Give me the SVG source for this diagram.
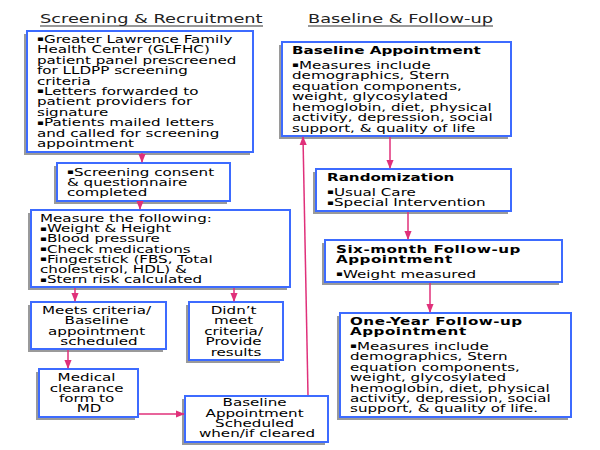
<svg xmlns="http://www.w3.org/2000/svg" width="600" height="450" viewBox="0 0 600 450">
<defs>
<marker id="ah" viewBox="0 0 10 10" refX="9" refY="5" markerWidth="6" markerHeight="6" orient="auto">
<path d="M0,1 L10,5 L0,9 Z" fill="#E0307A"/>
</marker>
<style>
.sh{fill:#9a9a9a}
.bx{fill:#fff;stroke:#3D6BFF;stroke-width:2}
.t{font-family:"DejaVu Sans",Verdana,sans-serif;font-size:10.3px;fill:#000}
.b{font-weight:bold}
.w{letter-spacing:0.35px}
.bl{font-size:7px;baseline-shift:2px}
.c{text-anchor:middle}
.h{font-family:"DejaVu Sans",Verdana,sans-serif;font-size:12.5px;fill:#222}
.ul{stroke:#333;stroke-width:1.2}
.cn{stroke:#E0307A;stroke-width:1.5;fill:none;marker-end:url(#ah)}
</style>
</defs>
<rect width="600" height="450" fill="#fff"/>

<g id="headers">
<text class="h" transform="translate(40,0) scale(1.42,1)" x="0" y="23.5">Screening &amp; Recruitment</text>
<line class="ul" x1="40" y1="26" x2="263" y2="26"/>
<text class="h" transform="translate(308,0) scale(1.42,1)" x="0" y="23.5">Baseline &amp; Follow-up</text>
<line class="ul" x1="308" y1="26" x2="493" y2="26"/>
</g>

<g id="n-prescreen">
<rect class="sh" x="24" y="34" width="226" height="121"/>
<rect class="bx" x="27" y="31" width="226" height="121"/>
<text class="t" transform="translate(37,0) scale(1.47,1)">
<tspan x="0" y="43"><tspan class="bl">▪</tspan>Greater Lawrence Family</tspan>
<tspan x="0" dy="10.4">Health Center (GLFHC)</tspan>
<tspan x="0" dy="10.4">patient panel prescreened</tspan>
<tspan x="0" dy="10.4">for LLDPP screening</tspan>
<tspan x="0" dy="10.4">criteria</tspan>
<tspan x="0" dy="10.4"><tspan class="bl">▪</tspan>Letters forwarded to</tspan>
<tspan x="0" dy="10.4">patient providers for</tspan>
<tspan x="0" dy="10.4">signature</tspan>
<tspan x="0" dy="10.4"><tspan class="bl">▪</tspan>Patients mailed letters</tspan>
<tspan x="0" dy="10.4">and called for screening</tspan>
<tspan x="0" dy="10.4">appointment</tspan>
</text>
</g>

<g id="n-consent">
<rect class="sh" x="54" y="166" width="173" height="38"/>
<rect class="bx" x="57" y="163" width="173" height="38"/>
<text class="t" transform="translate(67,0) scale(1.47,1)">
<tspan x="0" y="176"><tspan class="bl">▪</tspan>Screening consent</tspan>
<tspan x="0" dy="10">&amp; questionnaire</tspan>
<tspan x="0" dy="10">completed</tspan>
</text>
</g>

<g id="n-measure">
<rect class="sh" x="28" y="213" width="259" height="77"/>
<rect class="bx" x="31" y="210" width="259" height="77"/>
<text class="t" transform="translate(40,0) scale(1.47,1)">
<tspan x="0" y="222">Measure the following:</tspan>
<tspan x="0" dy="10.2"><tspan class="bl">▪</tspan>Weight &amp; Height</tspan>
<tspan x="0" dy="10.2"><tspan class="bl">▪</tspan>Blood pressure</tspan>
<tspan x="0" dy="10.2"><tspan class="bl">▪</tspan>Check medications</tspan>
<tspan x="0" dy="10.2"><tspan class="bl">▪</tspan>Fingerstick (FBS, Total</tspan>
<tspan x="0" dy="10.2">cholesterol, HDL) &amp;</tspan>
<tspan x="0" dy="10.2"><tspan class="bl">▪</tspan>Stern risk calculated</tspan>
</text>
</g>

<g id="n-meets">
<rect class="sh" x="28" y="305" width="135" height="47"/>
<rect class="bx" x="31" y="302" width="135" height="47"/>
<text class="t c" transform="translate(99,0) scale(1.47,1)">
<tspan x="0" y="314">Meets criteria/</tspan>
<tspan x="0" dy="10.4">Baseline</tspan>
<tspan x="0" dy="10.4">appointment</tspan>
<tspan x="0" dy="10.4">scheduled</tspan>
</text>
</g>

<g id="n-didnt">
<rect class="sh" x="186" y="305" width="94" height="58"/>
<rect class="bx" x="189" y="302" width="94" height="58"/>
<text class="t c" transform="translate(236,0) scale(1.47,1)">
<tspan x="0" y="314">Didn’t</tspan>
<tspan x="0" dy="10.4">meet</tspan>
<tspan x="0" dy="10.4">criteria/</tspan>
<tspan x="0" dy="10.4">Provide</tspan>
<tspan x="0" dy="10.4">results</tspan>
</text>
</g>

<g id="n-medical">
<rect class="sh" x="36" y="372" width="99" height="48"/>
<rect class="bx" x="39" y="369" width="99" height="48"/>
<text class="t c" transform="translate(89,0) scale(1.47,1)">
<tspan x="0" y="381.5">Medical</tspan>
<tspan x="0" dy="10.2">clearance</tspan>
<tspan x="0" dy="10.2">form to</tspan>
<tspan x="0" dy="10.2">MD</tspan>
</text>
</g>

<g id="n-scheduled">
<rect class="sh" x="182" y="399" width="143" height="46"/>
<rect class="bx" x="185" y="396" width="143" height="46"/>
<text class="t c" transform="translate(257,0) scale(1.47,1)">
<tspan x="0" y="406.5">Baseline</tspan>
<tspan x="0" dy="10.2">Appointment</tspan>
<tspan x="0" dy="10.2">Scheduled</tspan>
<tspan x="0" dy="10.2">when/if cleared</tspan>
</text>
</g>

<g id="n-baseline">
<rect class="sh" x="279" y="45" width="229" height="94"/>
<rect class="bx" x="282" y="42" width="229" height="94"/>
<text class="t b" transform="translate(292,0) scale(1.47,1)" x="0" y="54">Baseline Appointment</text>
<text class="t" transform="translate(292,0) scale(1.47,1)">
<tspan x="0" y="69"><tspan class="bl">▪</tspan>Measures include</tspan>
<tspan x="0" dy="10.5">demographics, Stern</tspan>
<tspan x="0" dy="10.5">equation components,</tspan>
<tspan x="0" dy="10.5">weight, glycosylated</tspan>
<tspan x="0" dy="10.5">hemoglobin, diet, physical</tspan>
<tspan x="0" dy="10.5">activity, depression, social</tspan>
<tspan x="0" dy="10.5">support, &amp; quality of life</tspan>
</text>
</g>

<g id="n-random">
<rect class="sh" x="313" y="172" width="195" height="42"/>
<rect class="bx" x="316" y="169" width="195" height="42"/>
<text class="t b" transform="translate(327,0) scale(1.47,1)" x="0" y="181">Randomization</text>
<text class="t" transform="translate(327,0) scale(1.47,1)">
<tspan x="0" y="196"><tspan class="bl">▪</tspan>Usual Care</tspan>
<tspan x="0" dy="10.5"><tspan class="bl">▪</tspan>Special Intervention</tspan>
</text>
</g>

<g id="n-sixmonth">
<rect class="sh" x="322" y="243" width="237" height="42"/>
<rect class="bx" x="325" y="240" width="237" height="42"/>
<text class="t b w" transform="translate(336,0) scale(1.47,1)">
<tspan x="0" y="253">Six-month Follow-up</tspan>
<tspan x="0" dy="10">Appointment</tspan>
</text>
<text class="t" transform="translate(336,0) scale(1.47,1)" x="0" y="278"><tspan class="bl">▪</tspan>Weight measured</text>
</g>

<g id="n-oneyear">
<rect class="sh" x="337" y="316" width="231" height="104"/>
<rect class="bx" x="340" y="313" width="231" height="104"/>
<text class="t b w" transform="translate(350,0) scale(1.47,1)">
<tspan x="0" y="325">One-Year Follow-up</tspan>
<tspan x="0" dy="10">Appointment</tspan>
</text>
<text class="t" transform="translate(350,0) scale(1.47,1)">
<tspan x="0" y="350"><tspan class="bl">▪</tspan>Measures include</tspan>
<tspan x="0" dy="10.4">demographics, Stern</tspan>
<tspan x="0" dy="10.4">equation components,</tspan>
<tspan x="0" dy="10.4">weight, glycosylated</tspan>
<tspan x="0" dy="10.4">hemoglobin, diet, physical</tspan>
<tspan x="0" dy="10.4">activity, depression, social</tspan>
<tspan x="0" dy="10.4">support, &amp; quality of life.</tspan>
</text>
</g>

<g id="connectors">
<line class="cn" x1="142" y1="153" x2="142" y2="162"/>
<line class="cn" x1="140" y1="202" x2="140" y2="209"/>
<line class="cn" x1="75" y1="288" x2="75" y2="301"/>
<line class="cn" x1="234" y1="288" x2="234" y2="301"/>
<line class="cn" x1="68" y1="350" x2="68" y2="368"/>
<line class="cn" x1="139" y1="414" x2="184" y2="414"/>
<line class="cn" x1="308" y1="395" x2="303" y2="137"/>
<line class="cn" x1="390" y1="137" x2="390" y2="168"/>
<line class="cn" x1="408" y1="212" x2="408" y2="239"/>
<line class="cn" x1="430" y1="283" x2="430" y2="312"/>
</g>
</svg>
